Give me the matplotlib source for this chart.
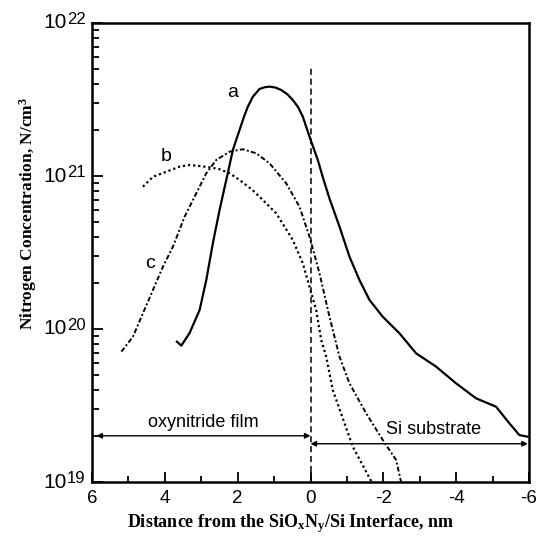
import numpy as np
import matplotlib
matplotlib.use("Agg")
import matplotlib.pyplot as plt
from matplotlib.ticker import FixedLocator, LogLocator, NullFormatter

# ---------------- data ----------------
a_x = [3.668, 3.547, 3.320, 3.045, 2.862, 2.680, 2.497, 2.313, 2.132, 1.948, 1.830, 1.720, 1.583,
       1.399, 1.260, 1.125, 0.960, 0.804, 0.640, 0.486, 0.340, 0.211, 0.027, -0.200, -0.360, -0.521,
       -0.796, -1.070, -1.344, -1.619, -1.984, -2.442, -2.900, -3.449, -3.997, -4.546, -5.095,
       -5.460, -5.734, -5.962]
a_log = [19.917, 19.891, 19.974, 20.124, 20.320, 20.562, 20.778, 20.974, 21.170, 21.301, 21.385,
         21.453, 21.518, 21.569, 21.580, 21.584, 21.578, 21.562, 21.535, 21.497, 21.450, 21.388,
         21.257, 21.105, 20.975, 20.853, 20.669, 20.473, 20.320, 20.190, 20.080, 19.972, 19.841,
         19.754, 19.645, 19.547, 19.492, 19.384, 19.307, 19.296]

b_x = [4.601, 4.326, 3.959, 3.594, 3.320, 3.045, 2.771, 2.497, 2.222, 1.948, 1.591, 1.309,
       0.941, 0.486, 0.211, 0.027, -0.156, -0.294, -0.431, -0.612, -1.161, -1.680]
b_log = [20.930, 20.995, 21.028, 21.061, 21.072, 21.065, 21.057, 21.044, 21.018, 20.974, 20.908,
         20.843, 20.756, 20.582, 20.429, 20.276, 20.124, 19.928, 19.819, 19.601, 19.231, 19.0]

c_x = [5.193, 4.875, 4.601, 4.326, 4.052, 3.778, 3.457, 3.136, 2.861, 2.587, 2.222, 1.857,
       1.490, 1.125, 0.667, 0.302, 0.027, -0.247, -0.521, -0.796, -1.070, -1.528, -1.984,
       -2.351, -2.488]
c_log = [19.852, 19.950, 20.103, 20.255, 20.407, 20.538, 20.734, 20.887, 21.018, 21.105, 21.159,
         21.175, 21.148, 21.083, 20.952, 20.799, 20.603, 20.364, 20.080, 19.819, 19.645, 19.449,
         19.275, 19.144, 19.0]

x_ticks = [6, 4, 2, 0, -2, -4, -6]
x_ticklabels = ['6', '4', '2', '0', '-2', '-4', '-6']
y_ticks = [1e19, 1e20, 1e21, 1e22]
y_exponents = ['19', '20', '21', '22']

curve_labels = ['a', 'b', 'c']
curve_label_pos = [(2.14, 3.5e21), (3.96, 1.34e21), (4.42, 2.7e20)]

# ---------------- style ----------------
plt.rcParams['mathtext.fontset'] = 'custom'
plt.rcParams['mathtext.rm'] = 'Liberation Serif:bold'
plt.rcParams['mathtext.it'] = 'Liberation Serif:bold'
plt.rcParams['mathtext.bf'] = 'Liberation Serif:bold'
sans = 'Liberation Sans'
serif = 'Liberation Serif'

fig = plt.figure(figsize=(5.37, 5.46), dpi=100)
ax = fig.add_axes([92/537, 1-482/546, (529-92)/537, (482-23)/546])

ax.plot(a_x, 10**np.array(a_log), color='black', lw=1.6, solid_joinstyle='round')
ax.plot(b_x, 10**np.array(b_log), color='black', lw=1.6, linestyle=(0, (1, 1.3)))
ax.plot(c_x, 10**np.array(c_log), color='black', lw=1.4, linestyle=(0, (2.5, 1.2, 1, 1.2)))

ax.set_yscale('log')
ax.set_xlim(6, -6)
ax.set_ylim(1e19, 1e22)

# interface line
ax.plot([0, 0], [1e19, 10**21.725], color='black', lw=1.1, linestyle=(0, (4, 2.5)))

# arrows
ap = dict(arrowstyle='<|-|>', color='black', lw=1.0, mutation_scale=8, shrinkA=0, shrinkB=0)
ax.annotate('', xy=(5.88, 10**19.302), xytext=(0.0, 10**19.302), arrowprops=ap)
ax.annotate('', xy=(0.0, 10**19.25), xytext=(-5.97, 10**19.25), arrowprops=ap)
ax.text(2.95, 10**19.39, 'oxynitride film', fontsize=13, family=sans, ha='center', va='center')
ax.text(-3.39, 10**19.345, 'Si substrate', fontsize=13, family=sans, ha='center', va='center')

for lab, (lx, ly) in zip(curve_labels, curve_label_pos):
    ax.text(lx, ly, lab, fontsize=14, family=sans, ha='center', va='center')

# ticks
ax.xaxis.set_major_locator(FixedLocator(x_ticks))
ax.set_xticklabels(x_ticklabels, family=sans)
ax.xaxis.set_minor_locator(FixedLocator([5, 3, 1, -1, -3, -5]))
ax.yaxis.set_major_locator(FixedLocator(y_ticks))
ax.set_yticklabels([])
ax.yaxis.set_minor_locator(LogLocator(base=10, subs=np.arange(2, 10)))
ax.yaxis.set_minor_formatter(NullFormatter())

ax.tick_params(axis='both', which='both', direction='in', top=False, right=False, width=1.3)
ax.tick_params(axis='x', which='major', length=7, pad=6, labelsize=13.5)
ax.tick_params(axis='x', which='minor', length=4)
ax.tick_params(axis='y', which='major', length=8)
ax.tick_params(axis='y', which='minor', length=5)

# y tick labels: "10" with large superscript exponent
for yv, ex in zip(y_ticks, y_exponents):
    ax.annotate('10', xy=(0, yv), xycoords=('axes fraction', 'data'),
                xytext=(-18, 0), textcoords='offset points',
                ha='right', va='center', fontsize=15, family=sans)
    ax.annotate(ex, xy=(0, yv), xycoords=('axes fraction', 'data'),
                xytext=(-18, -0.5), textcoords='offset points',
                ha='left', va='baseline', fontsize=12, family=sans)

for s in ax.spines.values():
    s.set_linewidth(1.8)

ax.set_xlabel(r'Distance from the SiO$_\mathregular{x}$N$_\mathregular{y}$/Si Interface, nm',
              fontsize=13, family=serif, fontweight='bold')
ax.set_ylabel(r'Nitrogen Concentration, N/cm$^\mathregular{3}$',
              fontsize=12.5, family=serif, fontweight='bold')
ax.xaxis.set_label_coords(0.455, -0.066)
ax.yaxis.set_label_coords(-0.121, 0.584)

fig.savefig('out.png', dpi=100)
